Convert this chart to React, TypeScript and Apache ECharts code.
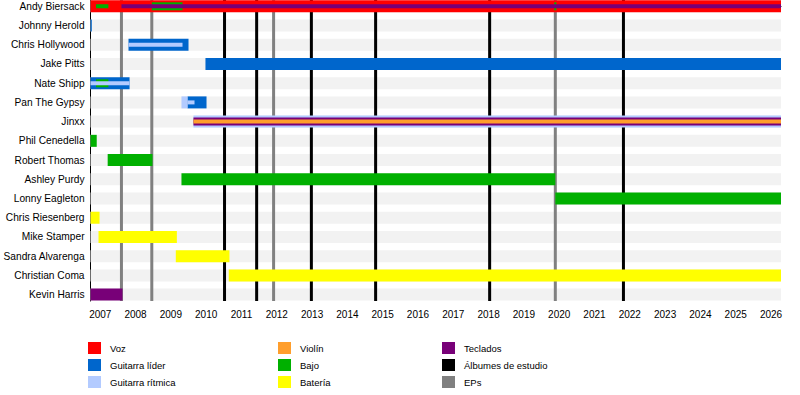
import React, { useEffect, useRef } from 'react';
import * as echarts from 'echarts';

// ---------- data ----------
const members = [
  'Andy Biersack',
  'Johnny Herold',
  'Chris Hollywood',
  'Jake Pitts',
  'Nate Shipp',
  'Pan The Gypsy',
  'Jinxx',
  'Phil Cenedella',
  'Robert Thomas',
  'Ashley Purdy',
  'Lonny Eagleton',
  'Chris Riesenberg',
  'Mike Stamper',
  'Sandra Alvarenga',
  'Christian Coma',
  'Kevin Harris',
];

const years = [2007, 2008, 2009, 2010, 2011, 2012, 2013, 2014, 2015, 2016, 2017, 2018, 2019, 2020, 2021, 2022, 2023, 2024, 2025, 2026];

const periodStart = 2006.725;
const periodEnd = 2026.283;

const studioAlbums = [2010.52, 2011.43, 2012.98, 2014.8, 2018.03, 2021.82];
const eps = [2007.6, 2008.46, 2011.91, 2019.89];

const roleNames = ['Voz', 'Guitarra líder', 'Guitarra rítmica', 'Violín', 'Bajo', 'Batería', 'Teclados'];

// [member index, from, till, layer] layer: 0 main bar, 1 secondary, 2 tertiary
const vocals = [[0, periodStart, periodEnd, 0]];
const leadGuitar = [
  [1, periodStart, 2006.76, 0],
  [2, 2007.8, 2009.5, 0],
  [3, 2009.98, periodEnd, 0],
  [4, periodStart, 2007.83, 0],
  [5, 2009.47, 2010.01, 0],
];
const rhythmGuitar = [
  [5, 2009.3, 2009.47, 0],
  [6, 2009.64, periodEnd, 0],
  [2, 2007.8, 2009.33, 2],
  [4, periodStart, 2007.83, 2],
  [5, 2009.47, 2009.67, 2],
];
const violin = [[6, 2009.64, periodEnd, 2]];
const bass = [
  [7, periodStart, 2006.9, 0],
  [8, 2007.21, 2008.48, 0],
  [9, 2009.3, 2019.89, 0],
  [10, 2019.89, periodEnd, 0],
  [0, 2006.88, 2007.23, 2],
  [0, 2008.46, 2009.33, 1],
  [0, 2019.86, 2019.92, 1],
  [4, 2006.88, 2007.23, 1],
];
const drums = [
  [11, periodStart, 2006.98, 0],
  [12, 2006.95, 2009.17, 0],
  [13, 2009.14, 2010.66, 0],
  [14, 2010.64, periodEnd, 0],
];
const keyboards = [
  [15, periodStart, 2007.63, 0],
  [0, 2007.6, periodEnd, 2],
  [6, 2009.64, periodEnd, 1],
];

const roleData = [vocals, leadGuitar, rhythmGuitar, violin, bass, drums, keyboards];

// ---------- styles ----------
const roleColors = ['#FF0000', '#0066CC', '#B3CBFF', '#FF9E2C', '#00B000', '#FFFF00', '#780078'];
const albumColor = '#000000';
const epColor = '#808080';
const stripeColor = '#F2F2F2';
const FONT = "'Liberation Sans', Arial, sans-serif";
const layerHeights = [12, 8, 4];

export default function App() {
  const ref = useRef<HTMLDivElement>(null);

  useEffect(() => {
    document.body.style.margin = '0';
    if (!ref.current) return;
    const chart = echarts.init(ref.current, null, { renderer: 'svg' });

    const barData: number[][] = [];
    [0, 1, 2].forEach((layer) => {
      roleData.forEach((arr, role) => {
        arr.forEach((p) => {
          if (p[3] === layer) barData.push([p[0], p[1], p[2], role, layer]);
        });
      });
    });

    const lineSeries = (name: string, values: number[], color: string) => ({
      name,
      type: 'custom',
      z: 2,
      itemStyle: { color },
      encode: { x: 0 },
      data: values.map((v) => [v]),
      renderItem: (params: any, api: any) => {
        const cs = params.coordSys;
        const x = api.coord([api.value(0), 0])[0];
        return {
          type: 'line',
          shape: { x1: x, y1: cs.y, x2: x, y2: cs.y + cs.height },
          style: { stroke: color, lineWidth: 3 },
        };
      },
    });

    const dummySeries = roleNames.map((name, i) => ({
      name,
      type: 'custom',
      itemStyle: { color: roleColors[i] },
      data: [],
      renderItem: () => null,
    }));

    const legendBase = {
      orient: 'vertical',
      top: 342,
      itemWidth: 13,
      itemHeight: 12,
      itemGap: 5,
      padding: 0,
      icon: 'rect',
      selectedMode: false,
      textStyle: { fontSize: 9.5, color: '#000', fontFamily: FONT, padding: [0, 0, 0, 4] },
    };
    const legendItem = (name: string, color: string) => ({ name, itemStyle: { color } });

    chart.setOption({
      animation: false,
      grid: { left: 90, right: 19, top: 0, height: 301, containLabel: false },
      xAxis: {
        type: 'value',
        min: periodStart,
        max: periodEnd,
        splitLine: { show: false },
        axisLine: { show: true, lineStyle: { color: '#000', width: 1 } },
        axisTick: { show: true, customValues: years, length: 5, lineStyle: { color: '#000', width: 1 } },
        axisLabel: {
          customValues: years,
          formatter: (v: number) => String(Math.round(v)),
          fontSize: 10,
          color: '#000',
          fontFamily: FONT,
          margin: 8,
        },
      },
      yAxis: {
        type: 'value',
        inverse: true,
        min: -0.328,
        max: 15.333,
        splitLine: { show: false },
        axisLine: { show: true, lineStyle: { color: '#000', width: 1 } },
        axisTick: { show: false },
        axisLabel: {
          customValues: members.map((_, i) => i),
          formatter: (v: number) => members[Math.round(v)] ?? '',
          fontSize: 10.2,
          color: '#000',
          fontFamily: FONT,
          margin: 6,
        },
      },
      legend: [
        {
          ...legendBase,
          left: 88,
          data: [legendItem('Voz', roleColors[0]), legendItem('Guitarra líder', roleColors[1]), legendItem('Guitarra rítmica', roleColors[2])],
        },
        {
          ...legendBase,
          left: 278,
          data: [legendItem('Violín', roleColors[3]), legendItem('Bajo', roleColors[4]), legendItem('Batería', roleColors[5])],
        },
        {
          ...legendBase,
          left: 442,
          data: [legendItem('Teclados', roleColors[6]), legendItem('Álbumes de estudio', albumColor), legendItem('EPs', epColor)],
        },
      ],
      series: [
        {
          name: 'stripes',
          type: 'custom',
          z: 1,
          encode: { x: 0, y: 1 },
          data: members.map((_, i) => [periodStart, i]),
          renderItem: (params: any, api: any) => {
            const cs = params.coordSys;
            const y = api.coord([periodStart, api.value(1)])[1];
            return {
              type: 'rect',
              shape: { x: cs.x, y: y - 6, width: cs.width, height: 12 },
              style: { fill: stripeColor },
            };
          },
        },
        lineSeries('Álbumes de estudio', studioAlbums, albumColor),
        lineSeries('EPs', eps, epColor),
        {
          name: 'bars',
          type: 'custom',
          z: 3,
          encode: { x: [1, 2], y: 0 },
          data: barData,
          renderItem: (params: any, api: any) => {
            const m = api.value(0);
            const p0 = api.coord([api.value(1), m]);
            const p1 = api.coord([api.value(2), m]);
            const h = layerHeights[api.value(4)];
            return {
              type: 'rect',
              shape: { x: p0[0], y: p0[1] - h / 2, width: Math.max(p1[0] - p0[0], 1), height: h },
              style: { fill: roleColors[api.value(3)] },
            };
          },
        },
        ...dummySeries,
      ],
    });

    return () => chart.dispose();
  }, []);

  return <div ref={ref} style={{ width: 800, height: 395 }} />;
}
